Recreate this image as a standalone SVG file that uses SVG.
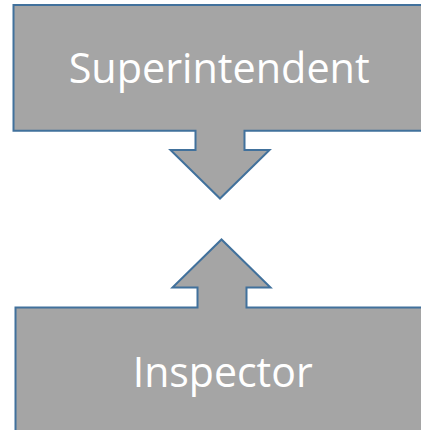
<svg xmlns="http://www.w3.org/2000/svg" width="421" height="430" viewBox="0 0 421 430">
<style>
.shape{fill:#a5a5a5;stroke:#41719c;stroke-width:2;stroke-linejoin:miter}
.lbl{font-family:"Open Sans","Liberation Sans",sans-serif;font-size:42px;fill:#ffffff;text-anchor:middle}
</style>
<rect width="421" height="430" fill="#ffffff"/>
<g id="connectors"></g>
<g id="superintendent">
<path class="shape" d="M13.5,5 H430 V130.7 H244.5 V150 H269.5 L220,198.5 L170.5,150 H195.5 V130.7 H13.5 Z"/>
<text class="lbl" x="219.2" y="83.3" textLength="301" lengthAdjust="spacingAndGlyphs">Superintendent</text>
</g>
<g id="inspector">
<path class="shape" d="M15.5,307.5 H197.5 V287.5 H172.5 L221.5,239.5 L270.5,287.5 H246.5 V307.5 H430 V440 H15.5 Z"/>
<text class="lbl" x="222.7" y="386.7" textLength="180" lengthAdjust="spacingAndGlyphs">Inspector</text>
</g>
</svg>
